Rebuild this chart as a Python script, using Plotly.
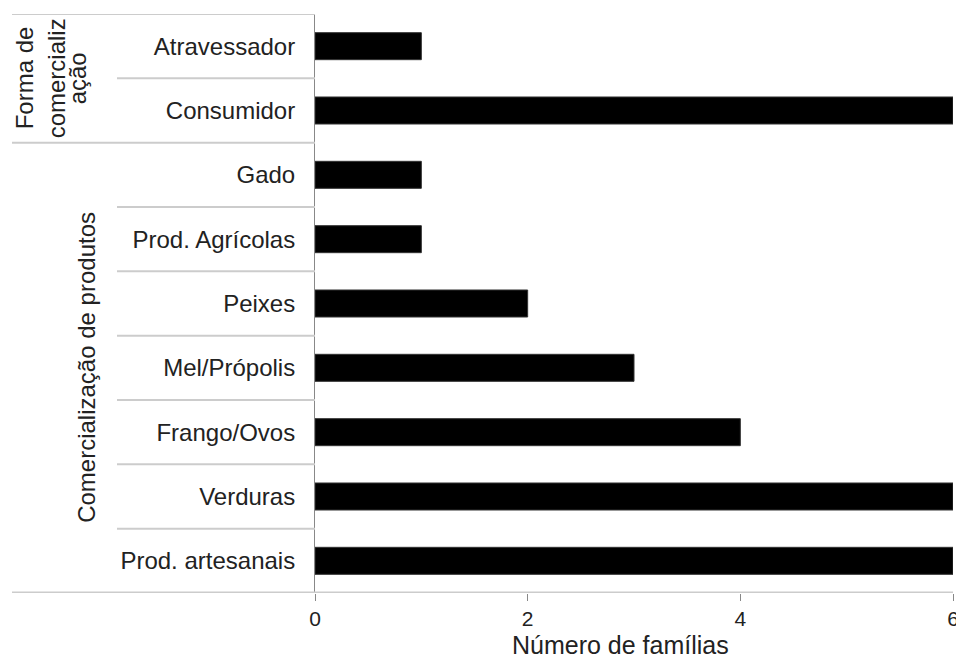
import plotly.graph_objects as go

categories = ["Atravessador", "Consumidor", "Gado", "Prod. Agrícolas", "Peixes",
              "Mel/Própolis", "Frango/Ovos", "Verduras", "Prod. artesanais"]
values = [1, 6, 1, 1, 2, 3, 4, 6, 6]
group1_lines = ["Forma de", "comercializ", "ação"]
group2_label = "Comercialização de produtos"
group_spans = [(0, 1), (2, 8)]
x_ticks = [0, 2, 4, 6]
x_title = "Número de famílias"

FONT = "Liberation Sans, Arial, sans-serif"
OFF = 8  # page body margin
W, H = 964 - OFF, 659 - OFF
L, R, T = 315 - OFF, 11, 14 - OFF
B = (OFF + H) - 593
pw = W - L - R
ph = H - T - B

def px_to_paper(page_px):
    return (page_px - OFF - L) / pw

def py_to_paper(page_py):
    return 1 - (page_py - OFF - T) / ph

fig = go.Figure(go.Bar(
    x=values, y=categories, orientation="h",
    marker=dict(color="black", line=dict(color="#333333", width=1)),
    width=0.42,
))

shapes = []
sep_color = "#cccccc"
for i in range(len(categories) - 1):
    yb = i + 0.5
    is_group_boundary = any(yb == s[1] + 0.5 for s in group_spans)
    x0 = px_to_paper(12) if is_group_boundary else px_to_paper(117)
    shapes.append(dict(type="line", xref="paper", yref="y", x0=x0, x1=0,
                       y0=yb, y1=yb, line=dict(color=sep_color, width=2)))
shapes.append(dict(type="line", xref="paper", yref="y", x0=px_to_paper(12), x1=0,
                   y0=-0.5, y1=-0.5, line=dict(color=sep_color, width=2)))
shapes.append(dict(type="line", xref="paper", yref="y", x0=px_to_paper(12), x1=1,
                   y0=len(categories) - 0.5, y1=len(categories) - 0.5,
                   line=dict(color=sep_color, width=3)))

annotations = []
g1_center = sum(group_spans[0]) / 2
for line_text, cx in zip(group1_lines, [24, 56, 77]):
    annotations.append(dict(text=line_text, xref="paper", yref="y", x=px_to_paper(cx),
                            y=g1_center, textangle=-90, showarrow=False,
                            font=dict(family=FONT, size=24, color="#222222"),
                            xanchor="center", yanchor="middle"))
annotations.append(dict(text=group2_label, xref="paper", yref="y", x=px_to_paper(87),
                        y=sum(group_spans[1]) / 2, textangle=-90, showarrow=False,
                        font=dict(family=FONT, size=24, color="#222222"),
                        xanchor="center", yanchor="middle"))
annotations.append(dict(text=x_title, xref="paper", yref="paper", x=px_to_paper(620),
                        y=py_to_paper(645), showarrow=False,
                        font=dict(family=FONT, size=25, color="#222222"),
                        xanchor="center", yanchor="middle"))

fig.update_layout(
    width=W, height=H,
    margin=dict(l=L, r=R, t=T, b=B, autoexpand=False),
    paper_bgcolor="white", plot_bgcolor="white",
    showlegend=False,
    shapes=shapes, annotations=annotations,
    font=dict(family=FONT, color="#222222"),
    xaxis=dict(range=[0, 6], tickvals=x_ticks, ticks="outside", ticklen=7,
               tickcolor="#888888", tickwidth=1, showgrid=False, zeroline=False,
               showline=False, tickfont=dict(size=21, color="#222222"),
               ticklabelstandoff=0, automargin=False),
    yaxis=dict(categoryorder="array", categoryarray=categories,
               range=[len(categories) - 0.5, -0.5], showgrid=False, zeroline=False,
               showline=True, linecolor="#888888", linewidth=1,
               ticks="outside", ticklen=0, ticklabelstandoff=14, automargin=False,
               tickfont=dict(size=24, color="#222222")),
)

fig.write_html("out.html")
